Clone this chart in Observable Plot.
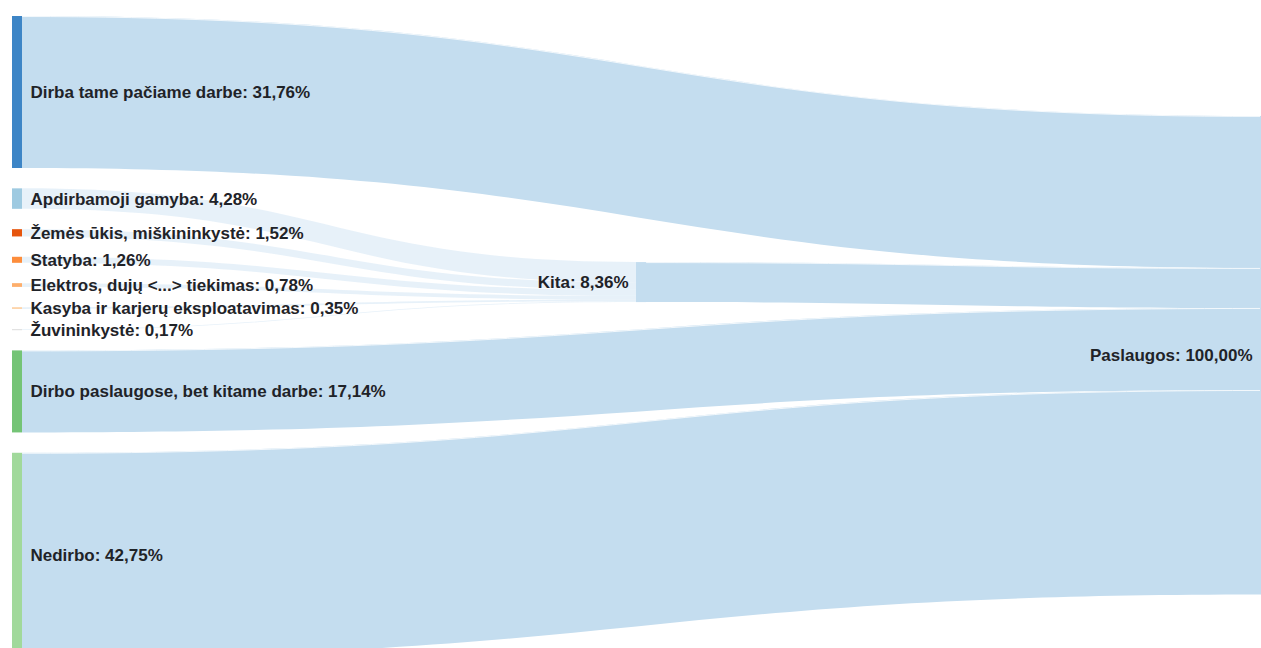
<!DOCTYPE html>
<html><head><meta charset="utf-8">
<script src="https://cdn.jsdelivr.net/npm/d3@7"></script>
<script src="https://cdn.jsdelivr.net/npm/@observablehq/plot@0.6"></script>
<style>
html,body{margin:0;padding:0;background:#fff;overflow:hidden}
#chart svg{display:block}
</style>
</head><body><div id="chart"></div>
<script>
// ---- data ----
const nodeNames = [
  "Dirba tame pačiame darbe",
  "Apdirbamoji gamyba",
  "Žemės ūkis, miškininkystė",
  "Statyba",
  "Elektros, dujų <...> tiekimas",
  "Kasyba ir karjerų eksploatavimas",
  "Žuvininkystė",
  "Dirbo paslaugose, bet kitame darbe",
  "Nedirbo",
  "Kita",
  "Paslaugos"
];
const nodeValues = [31.76, 4.28, 1.52, 1.26, 0.78, 0.35, 0.17, 17.14, 42.75, 8.36, 100.00];
const nodeColumns = [0, 0, 0, 0, 0, 0, 0, 0, 0, 1, 2];
const nodeColors = ["#3d85c6", "#9ecae1", "#e6550d", "#fd8d3c", "#fdae6b", "#fdd0a2", "#d9d9d9", "#74c476", "#a1d99b", "#c4ddef", "#c4ddef"];
const linkSources = [0, 1, 2, 3, 4, 5, 6, 9, 7, 8];
const linkTargets = [10, 9, 9, 9, 9, 9, 9, 10, 10, 10];
const linkValues = [31.76, 4.28, 1.52, 1.26, 0.78, 0.35, 0.17, 8.36, 17.14, 42.75];

// ---- layout (in value units) ----
const W = 1261, H = 648;
const pxPerUnit = 4.786, topPx = 16;      // vertical scale
const colStartPx = 12, colStepPx = 624;   // horizontal spacing of columns
const gap = 4.25;                          // node padding, value units
const nodeW = 10 / colStepPx;

const nodes = nodeNames.map((name, i) => ({i, name, value: nodeValues[i], col: nodeColumns[i], color: nodeColors[i]}));
const links = linkSources.map((s, i) => ({id: i, source: nodes[s], target: nodes[linkTargets[i]], value: linkValues[i]}));

let acc = 0;
for (const n of nodes.filter(n => n.col === 0)) { n.y0 = acc; n.y1 = acc + n.value; acc = n.y1 + gap; }
for (const n of nodes.filter(n => n.col > 0)) { n.y0 = 0; n.y1 = n.value; }

function offsets() {
  for (const n of nodes) {
    const outs = links.filter(l => l.source === n).sort((a, b) => a.target.y0 - b.target.y0);
    let o = n.y0; for (const l of outs) { l.sy0 = o; o += l.value; l.sy1 = o; }
    const ins = links.filter(l => l.target === n).sort((a, b) => a.source.y0 - b.source.y0);
    o = n.y0; for (const l of ins) { l.ty0 = o; o += l.value; l.ty1 = o; }
  }
}
const wavg = (arr, f) => d3.sum(arr, l => f(l) * l.value) / d3.sum(arr, l => l.value);
for (let it = 0; it < 60; it++) {
  offsets();
  for (const n of nodes.filter(n => n.col === 2)) {
    const ins = links.filter(l => l.target === n);
    const c = wavg(ins, l => (l.sy0 + l.sy1) / 2) - 0.4;
    n.y0 = c - n.value / 2; n.y1 = n.y0 + n.value;
  }
  offsets();
  for (const n of nodes.filter(n => n.col === 1)) {
    const ins = links.filter(l => l.target === n);
    const outs = links.filter(l => l.source === n);
    const cs = wavg(ins, l => (l.sy0 + l.sy1) / 2);
    const ct = wavg(outs, l => (l.ty0 + l.ty1) / 2);
    const c = 0.9 * ct + 0.1 * cs;
    n.y0 = c - n.value / 2; n.y1 = n.y0 + n.value;
  }
}
offsets();

const linkPts = links.flatMap(l => [
  {id: l.id, x: l.source.col + nodeW, ya: l.sy0, yb: l.sy1, kita: l.target.col === 1},
  {id: l.id, x: l.target.col, ya: l.ty0, yb: l.ty1, kita: l.target.col === 1}
]);
const fmt = v => v.toFixed(2).replace(".", ",");
const labels = nodes.map(n => ({
  ...n,
  label: `${n.name}: ${fmt(n.value)}%`,
  lx: n.col === 0 ? n.col + nodeW : n.col,
  yc: (n.y0 + n.y1) / 2
}));
const textStyle = {fontSize: 17, fontWeight: "bold", fontFamily: "'Liberation Sans', Arial, sans-serif", fill: "#1f2328"};

const chart = Plot.plot({
  width: W, height: H, margin: 0,
  x: {domain: [-colStartPx / colStepPx, (W - colStartPx) / colStepPx], axis: null},
  y: {domain: [-topPx / pxPerUnit, (H - topPx) / pxPerUnit], reverse: true, axis: null},
  color: {type: "identity"},
  style: {background: "#fff"},
  marks: [
    Plot.area(linkPts.filter(d => !d.kita), {x1: "x", y1: "ya", y2: "yb", z: "id", curve: "bump-x", fill: "#c4ddef", fillOpacity: 1}),
    Plot.area(linkPts.filter(d => d.kita), {x1: "x", y1: "ya", y2: "yb", z: "id", curve: "bump-x", fill: "#c4ddef", fillOpacity: 0.4}),
    Plot.line(linkPts.filter(d => !d.kita), {x: "x", y: "ya", z: "id", curve: "bump-x", stroke: "#ffffff", strokeWidth: 1, strokeOpacity: 0.8}),
    Plot.rect(nodes, {x1: d => d.col, x2: d => d.col + nodeW, y1: "y0", y2: d => Math.max(d.y1, d.y0 + 0.2), fill: "color"}),
    Plot.text(labels.filter(d => d.col === 0), {x: "lx", y: "yc", text: "label", textAnchor: "start", dx: 8, ...textStyle}),
    Plot.text(labels.filter(d => d.col > 0), {x: "lx", y: "yc", text: "label", textAnchor: "end", dx: -8, ...textStyle})
  ]
});
document.getElementById("chart").appendChild(chart);
</script>
</body></html>
